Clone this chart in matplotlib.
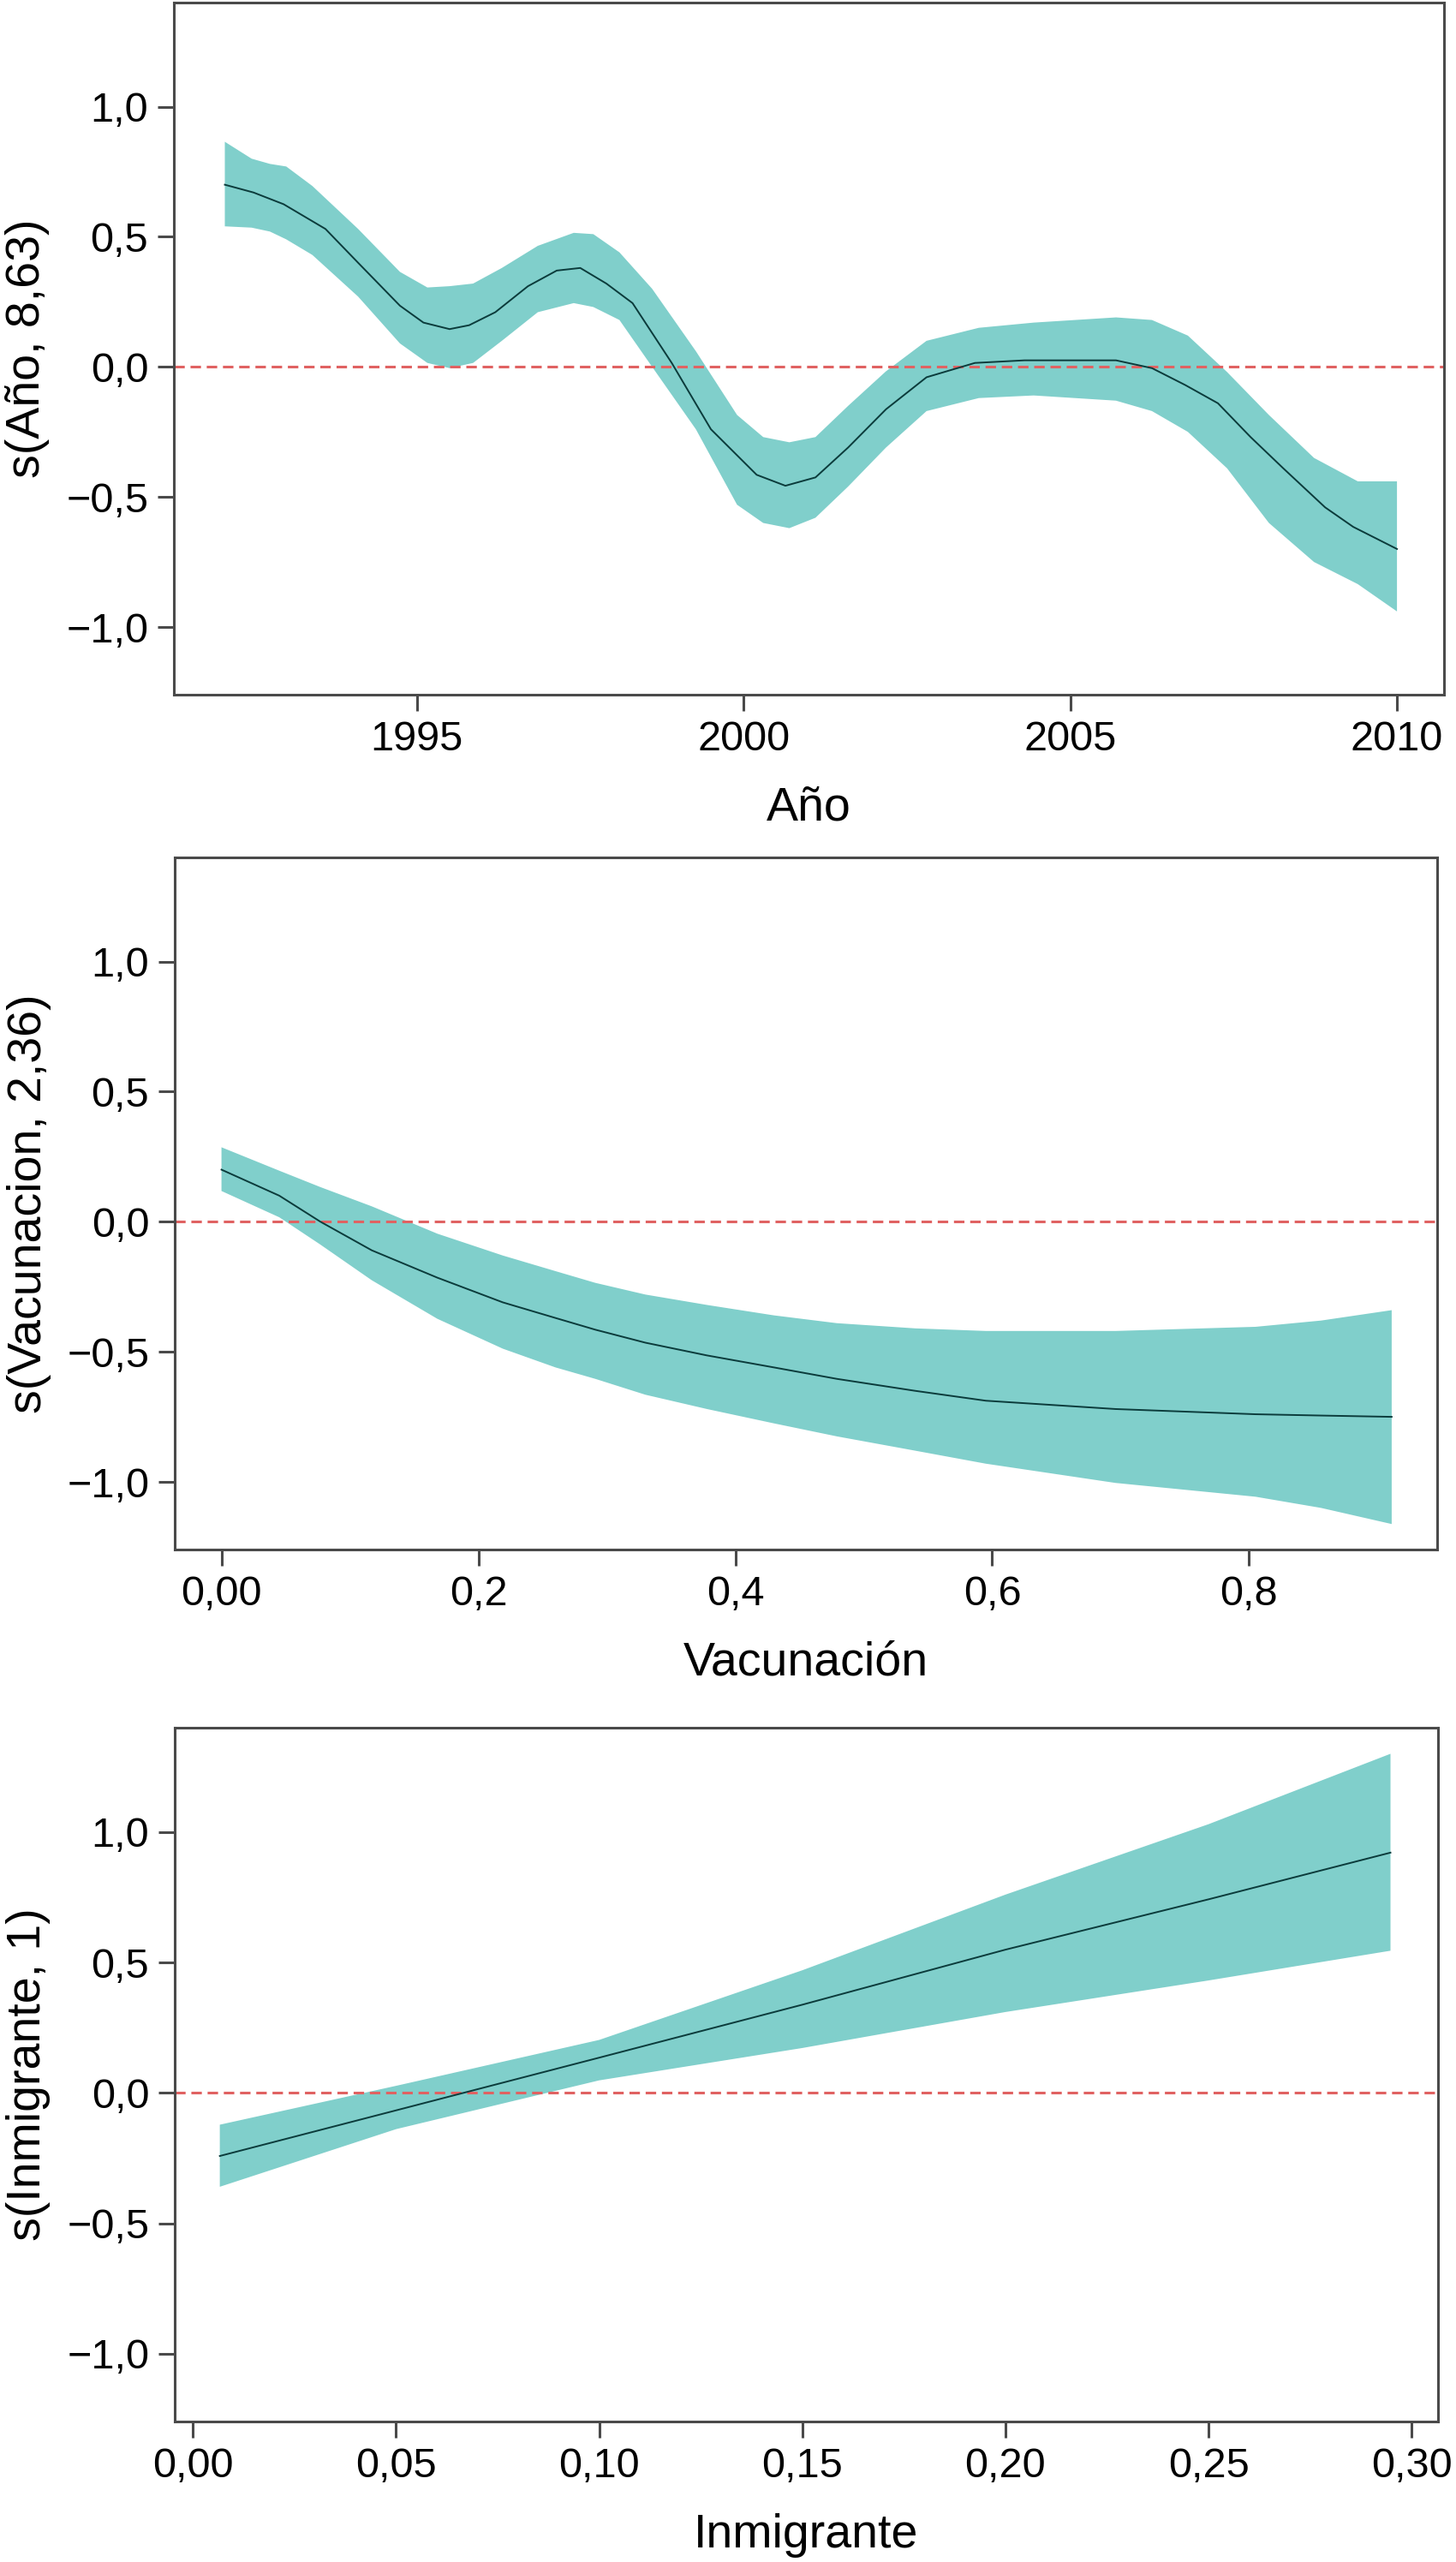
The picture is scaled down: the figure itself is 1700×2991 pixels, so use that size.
import matplotlib
matplotlib.use("Agg")
import matplotlib.pyplot as plt

plt.rcParams['font.family'] = ['Liberation Sans', 'DejaVu Sans']

# Panel 1: s(Año) -- fit and band edges read at their own x positions
anio = [1992.06, 1992.5, 1992.96, 1993.6, 1994.1, 1994.74, 1995.1, 1995.5,
        1995.8, 1996.2, 1996.7, 1997.14, 1997.5, 1997.9, 1998.3, 1998.9,
        1999.5, 1999.9, 2000.2, 2000.64, 2001.1, 2001.6, 2002.18, 2002.8,
        2003.54, 2004.3, 2005.7, 2006.25, 2006.76, 2007.26, 2007.76, 2008.26,
        2008.9, 2009.33, 2010.0]
anio_fit = [0.70, 0.67, 0.625, 0.53, 0.40, 0.235, 0.17, 0.145, 0.16, 0.21,
            0.31, 0.37, 0.38, 0.32, 0.245, 0.015, -0.24, -0.34, -0.415, -0.457,
            -0.425, -0.31, -0.163, -0.04, 0.015, 0.025, 0.025, -0.005, -0.07,
            -0.14, -0.27, -0.39, -0.54, -0.615, -0.70]

anio_band = [1992.06, 1992.47, 1992.75, 1993.0, 1993.4, 1994.1, 1994.74,
             1995.16, 1995.5, 1995.86, 1996.3, 1996.85, 1997.4, 1997.7, 1998.1,
             1998.6, 1999.27, 1999.9, 2000.3, 2000.7, 2001.1, 2001.6, 2002.18,
             2002.8, 2003.6, 2004.44, 2005.7, 2006.25, 2006.8, 2007.4, 2008.04,
             2008.73, 2009.4, 2010.0]
anio_up = [0.865, 0.80, 0.78, 0.77, 0.695, 0.53, 0.365, 0.305, 0.31, 0.32,
           0.38, 0.465, 0.515, 0.51, 0.44, 0.30, 0.06, -0.185, -0.27, -0.29,
           -0.27, -0.15, -0.017, 0.10, 0.15, 0.17, 0.19, 0.18, 0.12, -0.02,
           -0.185, -0.35, -0.44, -0.44]
anio_lo = [0.54, 0.535, 0.52, 0.49, 0.43, 0.27, 0.09, 0.015, -0.005, 0.015,
           0.10, 0.21, 0.245, 0.23, 0.18, 0.0, -0.24, -0.53, -0.60, -0.62,
           -0.58, -0.46, -0.31, -0.17, -0.12, -0.11, -0.13, -0.17, -0.25, -0.39,
           -0.60, -0.75, -0.835, -0.94]

# Panel 2: s(Vacunacion)
vac = [0.0, 0.045, 0.077, 0.117, 0.168, 0.219, 0.26, 0.291, 0.33, 0.378, 0.43,
       0.479, 0.54, 0.595, 0.696, 0.805, 0.856, 0.911]
vac_fit = [0.20, 0.10, 0.0, -0.11, -0.215, -0.31, -0.37, -0.415, -0.465,
           -0.514, -0.56, -0.604, -0.65, -0.688, -0.72, -0.74, -0.745, -0.75]
vac_up = [0.286, 0.196, 0.133, 0.059, -0.046, -0.13, -0.19, -0.235, -0.28,
          -0.32, -0.36, -0.39, -0.41, -0.42, -0.42, -0.404, -0.38, -0.34]
vac_lo = [0.118, 0.017, -0.088, -0.225, -0.373, -0.488, -0.56, -0.604, -0.665,
          -0.72, -0.775, -0.825, -0.88, -0.93, -1.004, -1.057, -1.10, -1.162]

# Panel 3: s(Inmigrante)
inm = [0.0066, 0.05, 0.10, 0.15, 0.20, 0.25, 0.2948]
inm_fit = [-0.242, -0.067, 0.135, 0.338, 0.549, 0.742, 0.921]
inm_up = [-0.122, 0.027, 0.203, 0.47, 0.76, 1.03, 1.30]
inm_lo = [-0.36, -0.139, 0.048, 0.172, 0.31, 0.431, 0.545]

y_ticks = [-1.0, -0.5, 0.0, 0.5, 1.0]
y_ticklabels = ['\u22121,0', '\u22120,5', '0,0', '0,5', '1,0']

panels = [
    dict(x=anio, fit=anio_fit, bx_up=anio_band, up=anio_up, bx_lo=anio_band, lo=anio_lo,
         xlim=(1991.28, 2010.72), xticks=[1995, 2000, 2005, 2010],
         xticklabels=['1995', '2000', '2005', '2010'],
         xlabel='Año', ylabel='s(Año, 8,63)', box=(203, 3, 1686, 811)),
    dict(x=vac, fit=vac_fit, bx_up=vac, up=vac_up, bx_lo=vac, lo=vac_lo,
         xlim=(-0.0364, 0.9464), xticks=[0.0, 0.2, 0.4, 0.6, 0.8],
         xticklabels=['0,00', '0,2', '0,4', '0,6', '0,8'],
         xlabel='Vacunación', ylabel='s(Vacunacion, 2,36)', box=(204, 1001, 1678, 1809)),
    dict(x=inm, fit=inm_fit, bx_up=inm, up=inm_up, bx_lo=inm, lo=inm_lo,
         xlim=(-0.0045, 0.3065), xticks=[0.0, 0.05, 0.10, 0.15, 0.20, 0.25, 0.30],
         xticklabels=['0,00', '0,05', '0,10', '0,15', '0,20', '0,25', '0,30'],
         xlabel='Inmigrante', ylabel='s(Inmigrante, 1)', box=(204, 2017, 1679, 2827)),
]

W, H = 1700, 2991
fig = plt.figure(figsize=(W / 100, H / 100), dpi=100)

band_col = '#80cfcb'
line_col = '#0b3b3b'
axis_col = '#4a4a4a'

for p in panels:
    l, t, r, b = p['box']
    ax = fig.add_axes([l / W, 1 - b / H, (r - l) / W, (b - t) / H])

    # confidence band as one polygon: upper edge then lower edge backwards
    ax.fill(list(p['bx_up']) + list(p['bx_lo'])[::-1],
            list(p['up']) + list(p['lo'])[::-1],
            color=band_col, linewidth=0, zorder=1)
    ax.axhline(0, color='#e06262', linestyle=(0, (4, 2.2)), linewidth=2.2, zorder=2)
    ax.plot(p['x'], p['fit'], color=line_col, linewidth=1.4, zorder=3)

    ax.set_xlim(*p['xlim'])
    ax.set_ylim(-1.26, 1.40)
    ax.set_xticks(p['xticks'])
    ax.set_xticklabels(p['xticklabels'])
    ax.set_yticks(y_ticks)
    ax.set_yticklabels(y_ticklabels)

    for s in ax.spines.values():
        s.set_color(axis_col)
        s.set_linewidth(2.2)
    ax.tick_params(axis='both', direction='out', length=13.5, width=2.2,
                   color=axis_col, labelsize=35, labelcolor='black', pad=8)

    ax.set_xlabel(p['xlabel'], fontsize=40)
    ax.set_ylabel(p['ylabel'], fontsize=40)
    ax.xaxis.set_label_coords(0.5, -0.132)
    ax.yaxis.set_label_coords(-0.098, 0.5)

fig.savefig('out.png', dpi=100, facecolor='white')
